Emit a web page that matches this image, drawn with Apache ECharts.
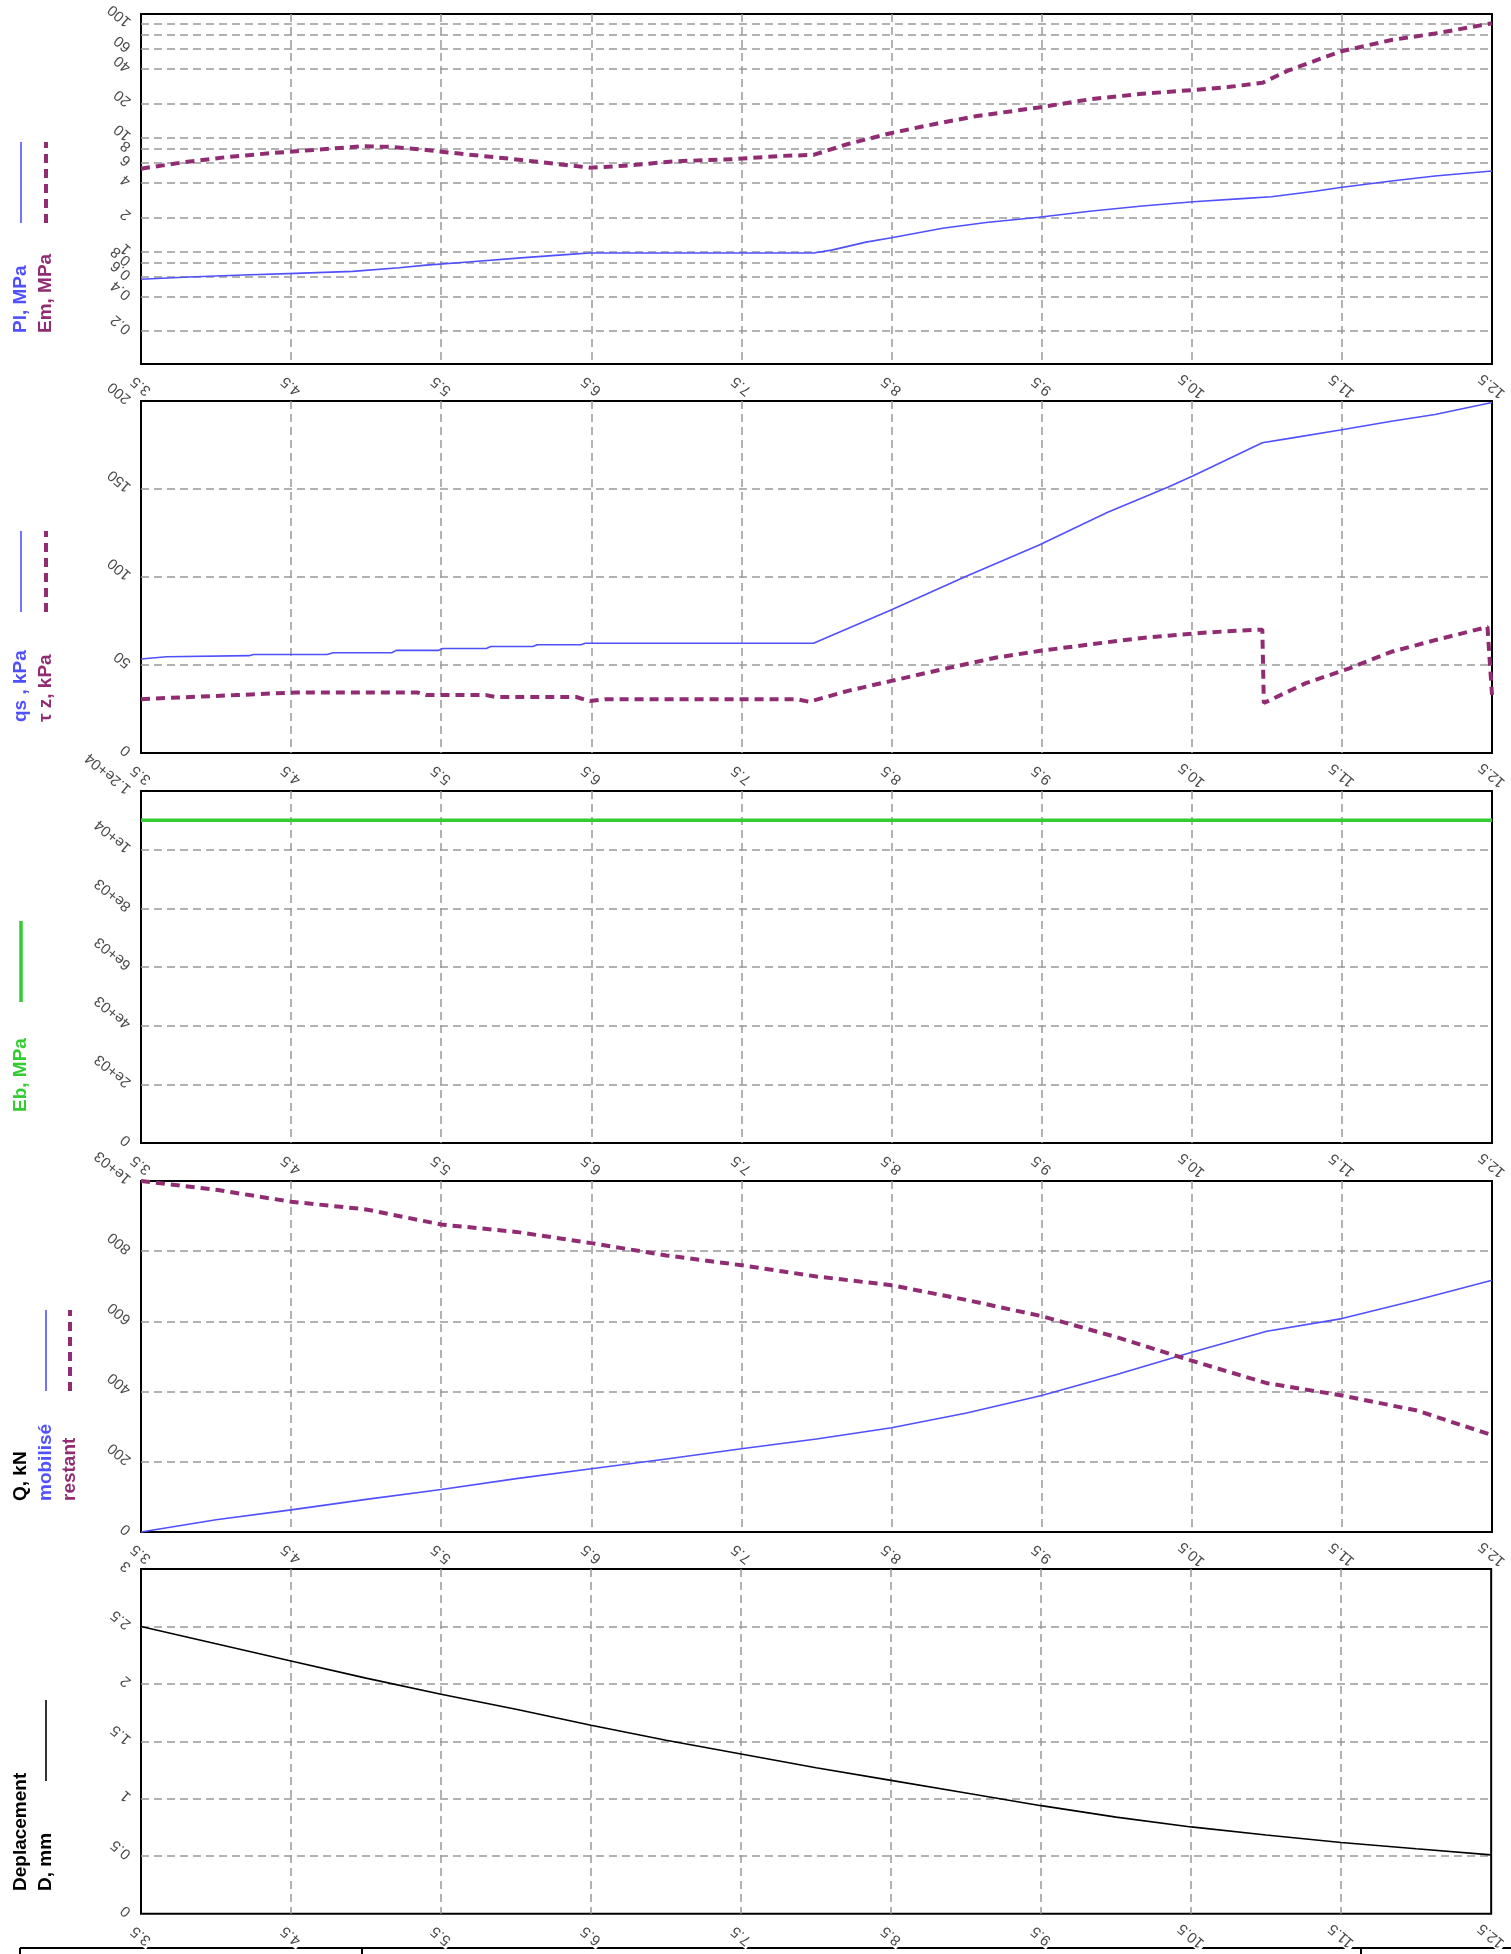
<!DOCTYPE html>
<html>
<head>
<meta charset="utf-8">
<script src="https://cdn.jsdelivr.net/npm/echarts@6/dist/echarts.min.js"></script>
<style>
html,body{margin:0;padding:0;background:#fff;}
#chart{width:1511px;height:1954px;}
</style>
</head>
<body>
<div id="chart"></div>
<script>
// ---------- shared depth axis ----------
const depthTicks = [3.5, 4.5, 5.5, 6.5, 7.5, 8.5, 9.5, 10.5, 11.5, 12.5];
const depthTickLabels = ['3.5', '4.5', '5.5', '6.5', '7.5', '8.5', '9.5', '10.5', '11.5', '12.5'];

// ---------- panel 1 : Pl, Em (log) ----------
const plDepth = [3.5, 3.82, 4.18, 4.53, 4.91, 5.22, 5.4, 5.68, 6.03, 6.4, 6.49, 7.98, 8.1, 8.33, 8.5, 8.84, 9.13, 9.48, 9.82, 10.17, 10.51, 10.86, 11.03, 11.32, 11.49, 11.83, 12.12, 12.5];
const plValues = [0.571, 0.598, 0.623, 0.644, 0.67, 0.72, 0.76, 0.81, 0.88, 0.955, 0.97, 0.97, 1.03, 1.21, 1.32, 1.6, 1.8, 2.0, 2.26, 2.51, 2.74, 2.93, 3.03, 3.39, 3.65, 4.17, 4.61, 5.1];
const emDepth = [3.5, 3.79, 4.07, 4.36, 4.65, 4.97, 5.17, 5.4, 5.68, 5.97, 6.26, 6.49, 6.72, 7.06, 7.47, 7.75, 7.98, 8.21, 8.5, 8.79, 9.07, 9.48, 9.82, 10.17, 10.51, 10.74, 10.97, 11.14, 11.49, 11.83, 12.12, 12.5];
const emValues = [5.34, 6.1, 6.75, 7.3, 7.8, 8.4, 8.3, 7.8, 7.1, 6.5, 5.9, 5.45, 5.67, 6.2, 6.5, 6.9, 7.06, 8.8, 11, 13.2, 15.5, 18.4, 21.7, 24.3, 26.2, 27.8, 30.3, 38.7, 57.1, 72, 82, 101];
const logTicks = [0.2, 0.4, 0.6, 0.8, 1, 2, 4, 6, 8, 10, 20, 40, 60, 80, 100];
const logTickLabels = ['0.2', '0.4', '0.6', '0.8', '1', '2', '4', '6', '8', '10', '20', '40', '60', '80', '100'];

// ---------- panel 2 : qs, tau z ----------
const qsDepth = [3.5, 3.67, 4.22, 4.25, 4.74, 4.78, 5.17, 5.2, 5.48, 5.51, 5.8, 5.83, 6.11, 6.14, 6.43, 6.46, 7.98, 8.5, 8.99, 9.48, 9.94, 10.34, 10.51, 10.97, 11.14, 11.49, 11.83, 12.12, 12.5];
const qsValues = [53.4, 54.7, 55.3, 56, 56, 57, 57, 58.3, 58.3, 59.4, 59.4, 60.5, 60.5, 61.5, 61.5, 62.4, 62.4, 81.4, 100.2, 118, 136.8, 151, 157.5, 176.3, 178.6, 183.5, 188.5, 192.3, 199.2];
const tauDepth = [3.5, 4.13, 4.53, 5.34, 5.4, 5.8, 5.86, 6.4, 6.49, 6.6, 7.87, 7.95, 8.21, 8.5, 8.84, 9.19, 9.48, 9.82, 10.17, 10.51, 10.74, 10.97, 10.98, 11.26, 11.55, 11.83, 12.12, 12.47, 12.5];
const tauValues = [30.6, 32.9, 34.4, 34.4, 32.9, 32.9, 31.8, 31.8, 29.5, 30.6, 30.6, 29.1, 35.3, 41, 47.6, 54.1, 57.9, 61.7, 65.4, 67.9, 69.2, 70.1, 28.4, 39.7, 48.1, 57.5, 64.1, 71.6, 33];
const qsTicks = [0, 50, 100, 150, 200];
const qsTickLabels = ['0', '50', '100', '150', '200'];

// ---------- panel 3 : Eb ----------
const ebDepth = [3.5, 12.5];
const ebValues = [11000, 11000];
const ebTicks = [0, 2000, 4000, 6000, 8000, 10000, 12000];
const ebTickLabels = ['0', '2e+03', '4e+03', '6e+03', '8e+03', '1e+04', '1.2e+04'];

// ---------- panel 4 : Q ----------
const qDepth = [3.5, 4, 4.5, 5, 5.5, 6, 6.5, 7, 7.5, 8, 8.5, 9, 9.5, 10, 10.5, 11, 11.5, 12, 12.5];
const qMobilise = [0, 35, 63, 93, 121, 152, 180, 208, 237, 265, 297, 339, 389, 449, 512, 572, 608, 661, 717];
const qRestant = [1000, 975, 941, 919, 876, 855, 823, 788, 760, 728, 703, 661, 615, 555, 488, 424, 389, 346, 276];
const qTicks = [0, 200, 400, 600, 800, 1000];
const qTickLabels = ['0', '200', '400', '600', '800', '1e+03'];

// ---------- panel 5 : D ----------
const dDepth = [3.5, 4, 4.5, 5, 5.5, 6, 6.5, 7, 7.5, 8, 8.5, 9, 9.5, 10, 10.5, 11, 11.5, 12, 12.5];
const dValues = [2.5, 2.35, 2.2, 2.05, 1.91, 1.78, 1.64, 1.51, 1.39, 1.27, 1.16, 1.05, 0.94, 0.84, 0.755, 0.685, 0.62, 0.565, 0.512];
const dTicks = [0, 0.5, 1, 1.5, 2, 2.5, 3];
const dTickLabels = ['0', '0.5', '1', '1.5', '2', '2.5', '3'];

// ---------- styling ----------
const BLUE = '#5050ff';
const PURPLE = '#922c72';
const GREEN = '#33cc33';
const FONT = '"Liberation Sans", Arial, Helvetica, sans-serif';
const GRID_LINE = { color: '#999', width: 1.5, type: [8, 5] };
const TICK_COLOR = '#4a4a4a';
const TICK_SIZE = 15;

const gridTops = [12, 401, 791, 1181, 1569];
const gridHeights = [352, 352, 352, 351, 353];
const gridLeft = 141, gridWidth = 1351;

function pick(ticks, labels) {
  return function (v) {
    let best = 0, bd = Infinity;
    for (let i = 0; i < ticks.length; i++) {
      const d = Math.abs(ticks[i] - v) / (Math.abs(ticks[i]) || 1);
      if (d < bd) { bd = d; best = i; }
    }
    return labels[best];
  };
}
function zip(xs, ys) { return xs.map((x, i) => [x, ys[i]]); }

const grids = gridTops.map((t, i) => ({
  left: gridLeft, top: t, width: gridWidth, height: gridHeights[i],
  show: true, borderColor: '#000', borderWidth: 2, backgroundColor: 'transparent'
}));

const xAxes = gridTops.map((t, i) => ({
  type: 'value', gridIndex: i, min: 3.5, max: 12.5,
  axisLine: { show: false },
  axisTick: { show: false, customValues: depthTicks },
  axisLabel: {
    customValues: depthTicks, rotate: 140, align: 'center', verticalAlign: 'middle',
    margin: 22, color: TICK_COLOR, fontSize: TICK_SIZE, fontFamily: FONT,
    showMinLabel: true, showMaxLabel: true,
    backgroundColor: i === 4 ? '#fff' : 'transparent', padding: i === 4 ? [0, 2] : 0,
    formatter: pick(depthTicks, depthTickLabels)
  },
  splitLine: { show: true, showMinLine: false, showMaxLine: false, lineStyle: GRID_LINE }
}));

function yLabel(ticks, labels) {
  return {
    customValues: ticks, rotate: 140, align: 'left', verticalAlign: 'middle',
    margin: 12, color: TICK_COLOR, fontSize: TICK_SIZE, fontFamily: FONT,
    showMinLabel: true, showMaxLabel: true,
    formatter: pick(ticks, labels)
  };
}
const ySplit = { show: true, showMinLine: false, showMaxLine: false, lineStyle: GRID_LINE };
const ySplitAll = { show: true, showMinLine: true, showMaxLine: true, lineStyle: GRID_LINE };

const yAxes = [
  { type: 'log', logBase: 10, gridIndex: 0, min: 0.103, max: 122,
    axisLine: { show: false }, axisTick: { show: false, customValues: logTicks },
    axisLabel: yLabel(logTicks, logTickLabels), splitLine: ySplitAll },
  { type: 'value', gridIndex: 1, min: 0, max: 200,
    axisLine: { show: false }, axisTick: { show: false, customValues: qsTicks },
    axisLabel: yLabel(qsTicks, qsTickLabels), splitLine: ySplit },
  { type: 'value', gridIndex: 2, min: 0, max: 12000,
    axisLine: { show: false }, axisTick: { show: false, customValues: ebTicks },
    axisLabel: yLabel(ebTicks, ebTickLabels), splitLine: ySplit },
  { type: 'value', gridIndex: 3, min: 0, max: 1000,
    axisLine: { show: false }, axisTick: { show: false, customValues: qTicks },
    axisLabel: yLabel(qTicks, qTickLabels), splitLine: ySplit },
  { type: 'value', gridIndex: 4, min: 0, max: 3,
    axisLine: { show: false }, axisTick: { show: false, customValues: dTicks },
    axisLabel: yLabel(dTicks, dTickLabels), splitLine: ySplit }
];

function solid(name, idx, data, color, width) {
  return { name, type: 'line', xAxisIndex: idx, yAxisIndex: idx, data, symbol: 'none',
    lineStyle: { color, width }, itemStyle: { color }, animation: false, clip: false, z: 3 };
}
function dashed(name, idx, data, color) {
  return { name, type: 'line', xAxisIndex: idx, yAxisIndex: idx, data, symbol: 'none',
    lineStyle: { color, width: 4, type: [9, 6] }, itemStyle: { color }, animation: false, clip: false, z: 3 };
}

const series = [
  solid('Pl', 0, zip(plDepth, plValues), BLUE, 1.6),
  dashed('Em', 0, zip(emDepth, emValues), PURPLE),
  solid('qs', 1, zip(qsDepth, qsValues), BLUE, 1.6),
  dashed('tau z', 1, zip(tauDepth, tauValues), PURPLE),
  solid('Eb', 2, zip(ebDepth, ebValues), GREEN, 3.5),
  solid('mobilisé', 3, zip(qDepth, qMobilise), BLUE, 1.6),
  dashed('restant', 3, zip(qDepth, qRestant), PURPLE),
  solid('D', 4, zip(dDepth, dValues), '#000', 1.6)
];

// ---------- legends (vertical, on the left) ----------
const bottoms = gridTops.map((t, i) => t + gridHeights[i]);
const cols = [21, 46, 70];
function vText(x, y, text, color) {
  return { type: 'text', x, y, rotation: Math.PI / 2,
    style: { text, fill: color, font: 'bold 19px ' + FONT, align: 'left', verticalAlign: 'middle' } };
}
function vLine(x, b, color, width, dash) {
  return { type: 'line', shape: { x1: x, y1: b - 141, x2: x, y2: b - 222 },
    style: { stroke: color, lineWidth: width, lineDash: dash || null } };
}
const g = [];
// panel 1
g.push(vText(cols[0], bottoms[0] - 31, 'Pl, MPa', BLUE));
g.push(vText(cols[1], bottoms[0] - 31, 'Em, MPa', PURPLE));
g.push(vLine(cols[0], bottoms[0], BLUE, 1.6));
g.push(vLine(cols[1], bottoms[0], PURPLE, 4, [9, 6]));
// panel 2
g.push(vText(cols[0], bottoms[1] - 31, 'qs , kPa', BLUE));
g.push(vText(cols[1], bottoms[1] - 31, 'τ z, kPa', PURPLE));
g.push(vLine(cols[0], bottoms[1], BLUE, 1.6));
g.push(vLine(cols[1], bottoms[1], PURPLE, 4, [9, 6]));
// panel 3
g.push(vText(cols[0], bottoms[2] - 31, 'Eb, MPa', GREEN));
g.push(vLine(cols[0], bottoms[2], GREEN, 3.5));
// panel 4
g.push(vText(cols[0], bottoms[3] - 31, 'Q, kN', '#000'));
g.push(vText(cols[1], bottoms[3] - 31, 'mobilisé', BLUE));
g.push(vText(cols[2], bottoms[3] - 31, 'restant', PURPLE));
g.push(vLine(cols[1], bottoms[3], BLUE, 1.6));
g.push(vLine(cols[2], bottoms[3], PURPLE, 4, [9, 6]));
// panel 5
g.push(vText(cols[0], bottoms[4] - 31, 'Deplacement', '#000'));
g.push(vText(cols[1], bottoms[4] - 31, 'D, mm', '#000'));
g.push(vLine(cols[1], bottoms[4], '#000', 1.6));
// partially visible frame below the last panel
g.push({ type: 'line', z: -5, shape: { x1: 20, y1: 1948, x2: 1511, y2: 1948 }, style: { stroke: '#000', lineWidth: 2 } });
g.push({ type: 'line', z: -5, shape: { x1: 20, y1: 1948, x2: 20, y2: 1954 }, style: { stroke: '#000', lineWidth: 2 } });
g.push({ type: 'line', z: -5, shape: { x1: 362, y1: 1948, x2: 362, y2: 1954 }, style: { stroke: '#000', lineWidth: 2 } });
g.push({ type: 'line', z: -5, shape: { x1: 1361, y1: 1948, x2: 1361, y2: 1954 }, style: { stroke: '#000', lineWidth: 2 } });

const chart = echarts.init(document.getElementById('chart'), null, { renderer: 'canvas' });
chart.setOption({
  animation: false,
  backgroundColor: '#fff',
  grid: grids,
  xAxis: xAxes,
  yAxis: yAxes,
  series,
  graphic: g
});
</script>
</body>
</html>
